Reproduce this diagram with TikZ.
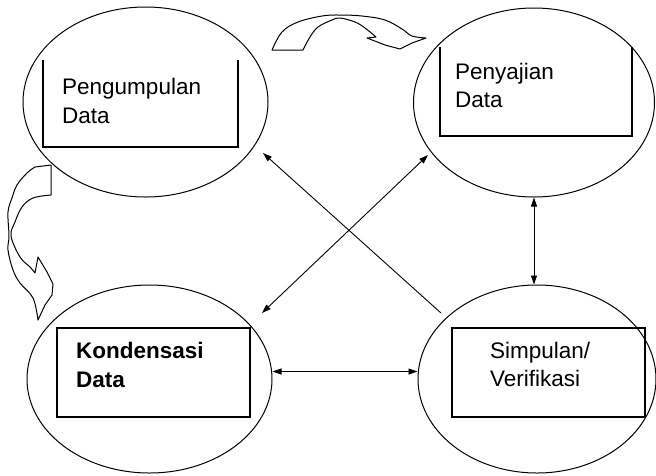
\documentclass[tikz,border=0pt]{standalone}
\usepackage{fontspec}
\setmainfont{Liberation Sans}
\usetikzlibrary{shapes.geometric,arrows.meta}
\begin{document}
\begin{tikzpicture}[x=1pt,y=-1pt,
  >={Triangle[length=9pt,width=6pt]},
  stage/.style={ellipse,draw,line width=1pt,inner sep=0pt},
  frame/.style={line width=1.3pt},
  label/.style={anchor=base west,inner sep=0pt,align=left,
    font=\fontsize{22.5}{28.5}\selectfont},
  link/.style={line width=0.9pt},
  flow/.style={line width=1pt,line join=round}]
\useasboundingbox (0,0) rectangle (656,475);

% the four stages
\node[stage,minimum width=245pt,minimum height=190pt] (tl) at (145.5,102) {};
\node[stage,minimum width=241pt,minimum height=189pt] (tr) at (534,102.5) {};
\node[stage,minimum width=245pt,minimum height=188pt] (bl) at (149.5,379) {};
\node[stage,minimum width=238pt,minimum height=188pt] (br) at (537,379) {};

% boxes inside the stages
\draw[frame] (43,60) -- (43,147) -- (238,147) -- (238,60);
\draw[line width=2pt] (43,147) -- (238,147);
\draw[frame] (440,47) -- (440,136) -- (632,136) -- (632,47);
\draw[line width=2pt] (440,136) -- (632,136);
\draw[frame] (57,328) rectangle (250,417);
\draw[line width=2pt] (250,328) -- (250,417);
\draw[frame] (452,328) rectangle (645,417);
\draw[line width=2.2pt] (452,328) -- (452,417);

% stage names (node placed on the baseline of the last line)
\node[label] (tltext) at (62,123) {Pengumpulan\\Data};
\node[label] (trtext) at (455,107.5) {Penyajian\\Data};
\node[label,font=\fontsize{22.5}{29}\selectfont\bfseries] (bltext) at (76,387) {Kondensasi\\Data};
\node[label] (brtext) at (490,386.5) {Simpulan/\\Verifikasi};

% links between the stages
\draw[link,<->] (tr.south) -- (tr.south |- br.north);
\draw[link,<->] ([shift={(0,-7.5)}]bl.east) -- ([shift={(0,-7.5)}]br.west);
\draw[link,->] ([shift={(-96,-66)}]br.center) -- ([shift={(117.5,51)}]tl.center);
\draw[link,<->] ([shift={(112.5,-66)}]bl.center) -- ([shift={(-106,52.5)}]tr.center);

% curved block arrow: collecting -> presenting
\draw[flow] (303,50)
  -- plot[smooth,tension=0.6] coordinates {(303,50) (310,37) (318,27) (332,20) (340,18) (355,22) (365,28) (376,37)}
  -- (367,38) -- (385,45) -- (400,49) -- (412,43) -- (426,38)
  -- plot[smooth,tension=0.6] coordinates {(426,38) (412,36) (402,29) (385,20) (362,16) (340,15) (322,16) (298,22) (282,32) (272,50)}
  -- cycle;

% curved block arrow: collecting -> condensing
\draw[flow] (51,195)
  -- plot[smooth,tension=0.6] coordinates {(51,195) (33,198) (22,207) (15,222) (11,236) (20,257) (30,267) (35,273)}
  -- (38,257) -- (47,272) -- (53,284) -- (52,295) -- (45,305) -- (38,320)
  -- plot[smooth,tension=0.6] coordinates {(38,320) (33,298) (20,283) (13,270) (8,250) (9,236) (8,212) (12,198) (17,185) (27,173) (35,167)}
  -- (51,165) -- cycle;
\end{tikzpicture}
\end{document}
